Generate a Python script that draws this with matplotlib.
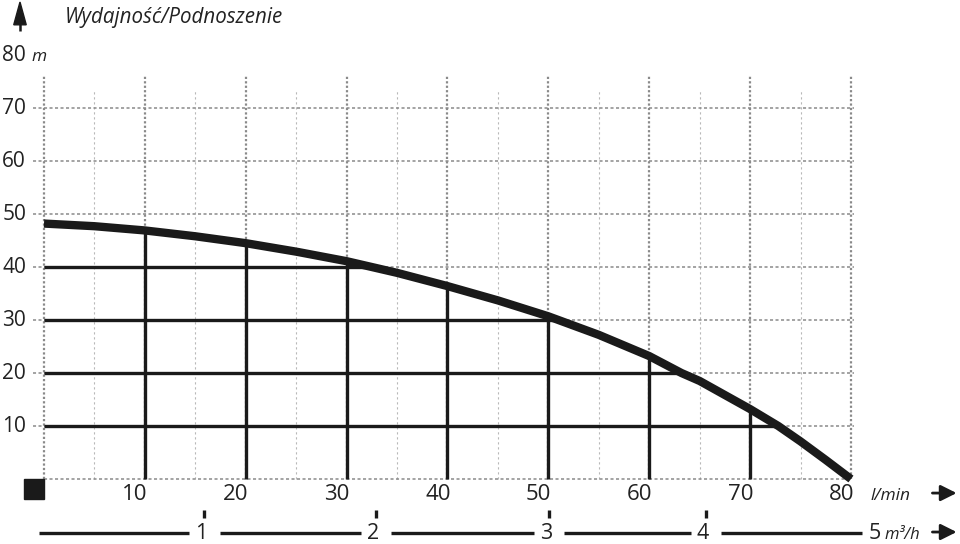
import numpy as np
import matplotlib.pyplot as plt
from matplotlib.patches import Rectangle, Polygon

plt.rcParams['font.family'] = ['Open Sans', 'DejaVu Sans']

# pump curve: flow (l/min) -> head (m)
flow = [0, 5, 10, 15, 20, 25, 30, 35, 40, 45, 50, 55, 60, 63.2, 65, 70, 72.8, 75, 77.5, 80]
head = [48.2, 47.7, 46.9, 45.8, 44.5, 42.9, 41.1, 38.9, 36.4, 33.7, 30.7, 27.2,
        23.2, 20.0, 18.5, 13.2, 10.0, 7.1, 3.6, 0.0]

x_ticks = [10, 20, 30, 40, 50, 60, 70, 80]
y_ticks = [10, 20, 30, 40, 50, 60, 70]
solid_x = [10, 20, 30, 40, 50, 60, 70]
solid_y = [10, 20, 30, 40]
# second scale (m3/h) and where its ticks sit on the l/min scale
m3h_labels = ['1', '2', '3', '4']
m3h_pos = [15.9, 32.9, 50.1, 65.6]

TXT = '#222222'
INK = '#1a1a1a'

fig = plt.figure(figsize=(9.6, 5.44), dpi=100)
ax = fig.add_axes([0, 0, 1, 1])
# map data units straight onto the pixel layout of the reference
ax.set_xlim(-4.362, 90.81)
ax.set_ylim(-12.26, 90.38)
ax.axis('off')

# dotted background grid
for x in range(0, 81, 10):
    ax.plot([x, x], [0, 76.2], color='#8a8a8a', lw=1.6, ls=(0, (1, 1)), zorder=1)
for x in range(5, 80, 10):
    ax.plot([x, x], [0, 73.2], color='#b8b8b8', lw=0.8, ls=(0, (2, 2.5)), zorder=1)
for y in y_ticks:
    ax.plot([-1.1, 80.3], [y, y], color='#8a8a8a', lw=1.1, ls=(0, (2, 1.6)), zorder=1)
ax.plot([0, 80], [0, 0], color='#8a8a8a', lw=1.1, ls=(0, (2, 1.6)), zorder=1)

# solid grid under the curve
fx = np.array(flow)
fh = np.array(head)
for x in solid_x:
    ax.plot([x, x], [0, np.interp(x, fx, fh)], color=INK, lw=2.4,
            solid_capstyle='butt', zorder=2)
for y in solid_y:
    ax.plot([0, np.interp(y, fh[::-1], fx[::-1])], [y, y], color=INK, lw=2.4,
            solid_capstyle='butt', zorder=2)

# the curve
ax.plot(flow, head, color=INK, lw=6, solid_capstyle='butt',
        solid_joinstyle='round', zorder=3)

# y labels
for y in y_ticks:
    ax.text(-1.78, y, str(y), ha='right', va='center', fontsize=15, color=TXT)
ax.text(-1.78, 80, '80', ha='right', va='center', fontsize=15, color=TXT)
ax.text(-1.2, 79.7, 'm', ha='left', va='center', fontsize=12.5, style='italic', color=TXT)

# x labels
for x in x_ticks:
    ax.text(x + 0.3, -3.0, str(x), ha='right', va='center', fontsize=16, color=TXT)
ax.text(81.9, -3.2, 'l/min', ha='left', va='center', fontsize=12.5, style='italic', color=TXT)
ax.annotate('', xy=(90.75, -2.65), xytext=(87.8, -2.65),
            arrowprops=dict(arrowstyle='-|>', color=INK, lw=2, mutation_scale=24))

# m3/h scale
gap = 1.5
edges = [-0.5] + m3h_pos + [81.1]
for i in range(len(edges) - 1):
    a = edges[i] + (gap if i > 0 else 0)
    b = edges[i + 1] - (gap if i < len(edges) - 2 else 0)
    ax.plot([a, b], [-10.2, -10.2], color=INK, lw=2.4, solid_capstyle='butt')
for lab, p in zip(m3h_labels, m3h_pos):
    ax.plot([p, p], [-5.9, -7.4], color=INK, lw=2.4, solid_capstyle='butt')
    ax.text(p - 0.3, -11.35, lab, ha='center', va='baseline', fontsize=15.5, color=TXT)
ax.text(82.4, -11.35, '5', ha='center', va='baseline', fontsize=15.5, color=TXT)
ax.text(83.3, -11.35, 'm³/h', ha='left', va='baseline', fontsize=12, style='italic', color=TXT)
ax.annotate('', xy=(90.75, -10.0), xytext=(87.8, -10.0),
            arrowprops=dict(arrowstyle='-|>', color=INK, lw=2, mutation_scale=24))

# corner square, vertical arrow and title
ax.add_patch(Rectangle((-1.98, -3.77), 1.98, 3.77, color=INK, clip_on=False))
ax.add_patch(Polygon([(-3.0, 85.7), (-1.76, 85.7), (-2.38, 90.0)], closed=True,
                     color=INK, clip_on=False))
ax.plot([-2.38, -2.38], [84.6, 85.8], color=INK, lw=1.8, solid_capstyle='butt')
ax.text(2.08, 87.0, 'Wydajność/Podnoszenie', ha='left', va='center', fontsize=14.8,
        style='italic', color=TXT)

fig.savefig('out.png', dpi=100, facecolor='white')
